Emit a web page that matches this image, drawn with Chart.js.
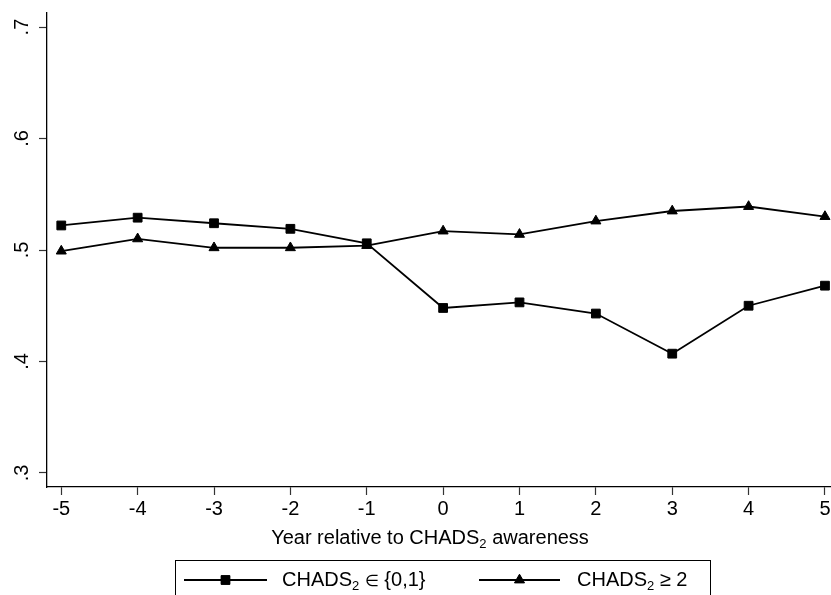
<!DOCTYPE html>
<html>
<head>
<meta charset="utf-8">
<script src="https://cdn.jsdelivr.net/npm/chart.js@4.4.1/dist/chart.umd.min.js"></script>
<style>
  html, body { margin: 0; padding: 0; background: #fff; }
</style>
</head>
<body>
<canvas id="grafico" width="831" height="595"></canvas>
<script>
// valores
const years = [-5, -4, -3, -2, -1, 0, 1, 2, 3, 4, 5];
const chadsLow = [0.522, 0.529, 0.524, 0.519, 0.506, 0.448, 0.453, 0.443, 0.407, 0.450, 0.468];
const chadsHigh = [0.499, 0.510, 0.502, 0.502, 0.504, 0.517, 0.514, 0.526, 0.535, 0.539, 0.530];
const yTicks = [0.3, 0.4, 0.5, 0.6, 0.7];
const xTicks = [-5, -4, -3, -2, -1, 0, 1, 2, 3, 4, 5];
const seriesLabels = ['CHADS₂ ∈ {0,1}', 'CHADS₂ ≥ 2'];
const xTitle = 'Year relative to CHADS₂ awareness';

const FONT = '"Liberation Sans", Arial, sans-serif';

// dibuja texto y convierte el "₂" en subindice de verdad
function textoConSub(ctx, str, x, y, size, measureOnly) {
    const partes = str.split('₂');
    let cx = x;
    partes.forEach((p, i) => {
        // el simbolo de pertenencia viene de otra fuente y sale muy grande
        const trozos = p.split('∈');
        trozos.forEach((t, j) => {
            ctx.font = size + 'px ' + FONT;
            if (!measureOnly) ctx.fillText(t, cx, y);
            cx += ctx.measureText(t).width;
            if (j < trozos.length - 1) {
                ctx.font = Math.round(size * 0.8) + 'px ' + FONT;
                if (!measureOnly) ctx.fillText('∈', cx, y);
                cx += ctx.measureText('∈').width;
            }
        });
        if (i < partes.length - 1) {
            ctx.font = Math.round(size * 0.65) + 'px ' + FONT;
            if (!measureOnly) ctx.fillText('2', cx, y + size * 0.2);
            cx += ctx.measureText('2').width;
        }
    });
    return cx - x;
}

const extras = {
    id: 'extras',
    afterDraw(chart) {
        const ctx = chart.ctx;
        const yScale = chart.scales.y;
        ctx.save();
        ctx.fillStyle = '#000';
        ctx.textBaseline = 'alphabetic';

        // etiquetas del eje y giradas
        ctx.font = '20px ' + FONT;
        ctx.textAlign = 'center';
        yTicks.forEach(v => {
            ctx.save();
            ctx.translate(28, yScale.getPixelForValue(v));
            ctx.rotate(-Math.PI / 2);
            ctx.fillText(v.toFixed(1).replace(/^0/, ''), 0, 0);
            ctx.restore();
        });

        // titulo eje x
        ctx.textAlign = 'left';
        const w = textoConSub(ctx, xTitle, 0, 0, 20, true);
        textoConSub(ctx, xTitle, 430 - w / 2, 544, 20);

        // leyenda con caja (cortada abajo)
        ctx.strokeStyle = '#000';
        ctx.lineWidth = 1;
        ctx.strokeRect(175.5, 560.5, 535, 60);

        const items = [
            { x1: 184, x2: 267, tx: 282, style: 'rect', r: 6.2 },
            { x1: 479, x2: 560, tx: 577, style: 'triangle', r: 5.8 }
        ];
        items.forEach((it, i) => {
            const ly = 580;
            ctx.lineWidth = 1.8;
            ctx.beginPath();
            ctx.moveTo(it.x1, ly);
            ctx.lineTo(it.x2, ly);
            ctx.stroke();
            ctx.lineWidth = 1;
            Chart.helpers.drawPoint(ctx, { pointStyle: it.style, radius: it.r, borderWidth: 1, rotation: 0 }, (it.x1 + it.x2) / 2, ly);
            ctx.fill();
            ctx.fillStyle = '#000';
            textoConSub(ctx, seriesLabels[i], it.tx, 586, 20);
        });
        ctx.restore();
    }
};

const ctx = document.getElementById('grafico').getContext('2d');

const grafico = new Chart(ctx, {
    type: 'line',
    data: {
        datasets: [{
            label: seriesLabels[0],
            data: years.map((x, i) => ({ x: x, y: chadsLow[i] })),
            borderColor: '#000',
            backgroundColor: '#000',
            borderWidth: 1.8,
            pointStyle: 'rect',
            pointRadius: 6.2,
            pointBorderWidth: 1,
            pointBackgroundColor: '#000',
            pointBorderColor: '#000',
            tension: 0
        }, {
            label: seriesLabels[1],
            data: years.map((x, i) => ({ x: x, y: chadsHigh[i] })),
            borderColor: '#000',
            backgroundColor: '#000',
            borderWidth: 1.8,
            pointStyle: 'triangle',
            pointRadius: 5.8,
            pointBorderWidth: 1,
            pointBackgroundColor: '#000',
            pointBorderColor: '#000',
            tension: 0
        }]
    },
    options: {
        responsive: false,
        animation: false,
        clip: false,
        layout: { autoPadding: false, padding: { left: 0, right: 0, top: 13, bottom: 68 } },
        plugins: {
            legend: { display: false },
            tooltip: { enabled: false }
        },
        scales: {
            x: {
                type: 'linear',
                min: -5.187,
                max: 5.079,
                afterBuildTicks: s => { s.ticks = xTicks.map(v => ({ value: v })); },
                afterFit: s => { s.height = 40; s.paddingLeft = 0; s.paddingRight = 0; },
                grid: { display: true, drawOnChartArea: false, drawTicks: true, tickLength: 8, tickColor: '#333', tickWidth: 1.2 },
                border: { color: '#000', width: 1.3 },
                ticks: {
                    font: { family: FONT, size: 20 },
                    color: '#000',
                    padding: 2,
                    maxRotation: 0,
                    autoSkip: false,
                    callback: v => String(v)
                }
            },
            y: {
                min: 0.2874,
                max: 0.7126,
                afterBuildTicks: s => { s.ticks = yTicks.map(v => ({ value: v })); },
                afterFit: s => { s.width = 47; },
                grid: { display: true, drawOnChartArea: false, drawTicks: true, tickLength: 8, tickColor: '#333', tickWidth: 1.2 },
                border: { color: '#000', width: 1.3 },
                ticks: { display: false }
            }
        }
    },
    plugins: [extras]
});
</script>
</body>
</html>
